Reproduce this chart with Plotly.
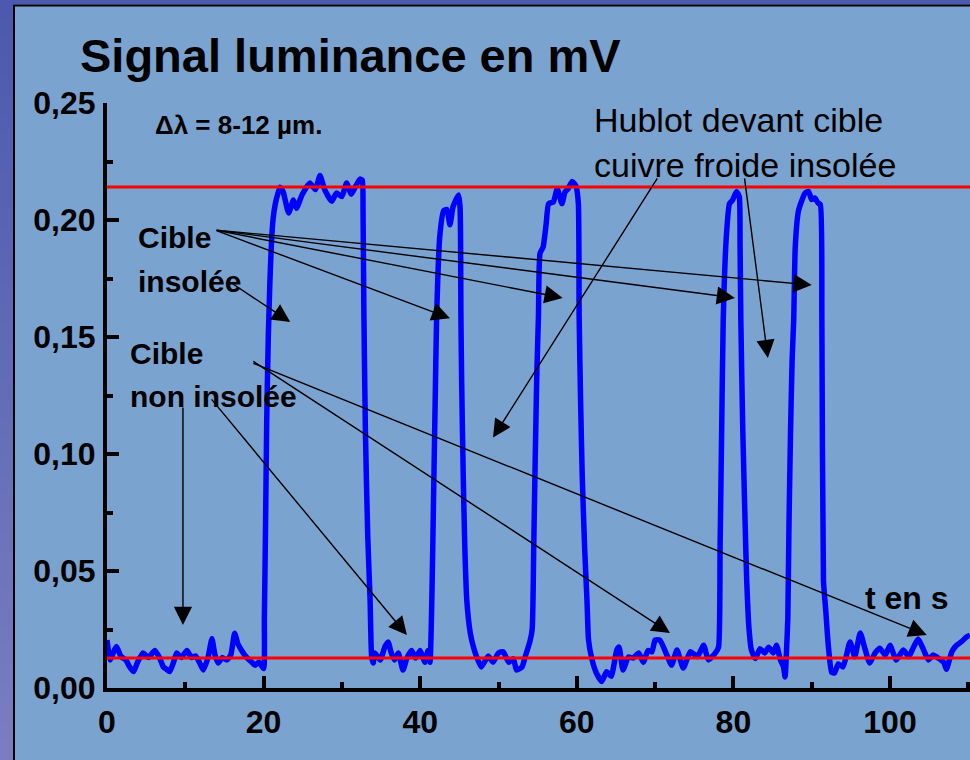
import plotly.graph_objects as go

# Luminance signal (mV) versus time (s), 8-12 µm band
t_s = [
    0.0, 0.4, 0.8, 1.2, 1.8, 2.4, 2.9, 3.4, 3.9, 4.6, 5.3, 6.1, 6.7, 7.2, 7.6, 8.0, 8.5, 8.9, 9.5,
    10.2, 10.8, 11.3, 11.8, 12.3, 12.9, 13.4, 13.8, 14.2, 14.7, 15.3, 15.8, 16.3, 16.7, 17.2, 17.6,
    18.0, 18.5, 18.9, 19.4, 20.0,
    20.1, 20.25, 20.4, 20.6, 20.8, 21.0, 21.2, 21.5, 21.8, 22.1, 22.5, 23.2, 23.8, 24.2, 24.9, 25.9,
    26.6, 27.2, 27.8, 28.7, 29.3, 30.0, 30.6, 31.2, 31.7, 32.3, 32.6, 32.7, 32.8, 33.0, 33.3, 33.6,
    33.8, 34.0,
    34.2, 34.9, 35.5, 35.9, 36.3, 36.7, 37.2, 37.8, 38.3, 38.9, 39.4, 40.0, 40.6, 41.0, 41.25,
    41.5, 41.7, 41.9, 42.1, 42.5, 43.0, 43.4, 43.8, 44.2, 44.9, 45.1, 45.2, 45.3, 45.5, 45.7,
    45.95, 46.4, 46.8, 47.2, 47.8,
    48.7, 49.3, 50.0, 50.6, 51.3, 51.9, 52.3, 53.0, 53.4, 54.0,
    54.3, 54.5, 54.7, 54.9, 55.1, 55.3, 55.7, 56.1, 56.4, 57.0, 57.5, 58.1, 58.5, 58.9, 59.4,
    59.9, 60.2, 60.3, 60.5, 60.7, 61.0, 61.3, 61.5, 61.9,
    62.5, 63.2, 63.8, 64.4, 65.1, 65.4, 65.9, 66.6, 67.2, 67.9, 68.5, 69.1, 69.6, 70.0, 70.6,
    71.5, 72.1, 72.8, 73.6, 74.5, 75.4, 76.2, 76.8, 77.7, 78.1,
    78.3, 78.5, 78.7, 79.1, 79.5, 79.9, 80.4, 80.75, 80.85, 80.95, 81.2, 81.5, 81.7, 82.0, 82.3,
    82.8, 83.4, 84.0, 84.5, 85.1, 85.5, 86.0, 86.4, 86.6, 86.8,
    86.95, 87.1, 87.3, 87.5, 87.7, 87.9, 88.3, 88.7, 89.15, 89.6, 90.0, 90.4, 90.8, 91.1, 91.3,
    91.5, 91.8, 92.1, 92.55, 92.9,
    93.4, 94.0, 94.9, 95.5, 96.2, 96.8, 97.4, 98.1, 98.7, 99.4, 100.0, 100.8, 101.7, 102.4, 103.0,
    103.6, 104.3, 104.9, 105.5, 106.2, 106.9, 107.2, 107.9, 108.5, 109.1, 109.8, 110.2,
]
signal_mv = [
    0.0205, 0.012, 0.015, 0.0177, 0.0134, 0.012, 0.009, 0.007, 0.011, 0.015, 0.013, 0.016, 0.013,
    0.009, 0.008, 0.007, 0.011, 0.015, 0.013, 0.016, 0.013, 0.0137, 0.011, 0.0077, 0.013, 0.021,
    0.014, 0.0107, 0.013, 0.012, 0.014, 0.0234, 0.019, 0.016, 0.014, 0.0125, 0.011, 0.0097, 0.011,
    0.0083,
    0.03, 0.07, 0.1145, 0.15, 0.173, 0.19, 0.200, 0.207, 0.211, 0.214, 0.212, 0.203, 0.2085, 0.205,
    0.2107, 0.2158, 0.213, 0.219, 0.213, 0.208, 0.2115, 0.210, 0.2158, 0.211, 0.214, 0.2175, 0.217,
    0.204, 0.163, 0.11, 0.065, 0.0376, 0.0134, 0.0107,
    0.015, 0.012, 0.0177, 0.0197, 0.015, 0.012, 0.015, 0.0077, 0.0128, 0.016, 0.0128, 0.016, 0.011,
    0.016, 0.011,
    0.04, 0.08, 0.12, 0.1587, 0.193, 0.204, 0.2045, 0.198, 0.2057, 0.2107, 0.205, 0.1587, 0.13,
    0.09, 0.06, 0.0376, 0.0234, 0.0175, 0.0134, 0.009,
    0.0137, 0.011, 0.015, 0.0155, 0.011, 0.0125, 0.0077, 0.009, 0.0133, 0.0197,
    0.025, 0.06, 0.10, 0.135, 0.1587, 0.1857, 0.1885, 0.1987, 0.207, 0.2077, 0.2134, 0.207, 0.212,
    0.2134, 0.2165, 0.2145, 0.207, 0.1587, 0.12, 0.09, 0.06, 0.0376, 0.0205, 0.0128,
    0.0064, 0.0028, 0.007, 0.005, 0.0162, 0.0175, 0.0077, 0.0133, 0.0128, 0.015, 0.011, 0.016,
    0.0155, 0.0205, 0.0205,
    0.0141, 0.0098, 0.0162, 0.0085, 0.0155, 0.0134, 0.0183, 0.012, 0.015, 0.0174,
    0.06, 0.11, 0.157, 0.193, 0.207, 0.2085, 0.2122, 0.210, 0.19, 0.157, 0.11, 0.07, 0.046, 0.025,
    0.0162,
    0.0126, 0.0168, 0.015, 0.0174, 0.015, 0.0183, 0.012, 0.009, 0.0047, 0.017,
    0.03, 0.07, 0.11, 0.14, 0.157, 0.1885, 0.2037, 0.208, 0.2115, 0.2122, 0.2087, 0.2094, 0.2073,
    0.2066, 0.157,
    0.046, 0.0329, 0.019, 0.0067, 0.0064,
    0.0103, 0.009, 0.0197, 0.0134, 0.0235, 0.0168, 0.0107, 0.015, 0.017, 0.0141, 0.0183, 0.012,
    0.0162, 0.0134, 0.0174,
    0.0209, 0.0162, 0.012, 0.0141, 0.0127, 0.0107, 0.008, 0.0155, 0.0183, 0.0197, 0.0219, 0.0226,
]

# Reference levels: heated target plateau and unheated baseline
level_high = 0.2141
level_low = 0.0128

x_ticks = [0, 20, 40, 60, 80, 100]
y_ticks = [0.00, 0.05, 0.10, 0.15, 0.20, 0.25]

W, H = 970, 760
ML, MR, MT, MB = 107, 0, 103, 72
PW, PH = W - ML - MR, H - MT - MB

PANEL = "#7BA3D0"
FONT = "Liberation Sans, Arial, sans-serif"


def px_x(p):
    return (p - ML) / PW


def px_y(p):
    return (H - MB - p) / PH


fig = go.Figure()
fig.add_trace(go.Scatter(
    x=t_s, y=signal_mv, mode="lines",
    line=dict(color="#0000FF", width=5.5, shape="spline", smoothing=0.5),
    hoverinfo="skip", showlegend=False,
))

shapes = []
# slide frame: darker strips on the left and top with black rules
n_band = 40
c_top = (76, 89, 174)
c_bot = (122, 126, 192)
for i in range(n_band):
    f = i / (n_band - 1)
    col = tuple(round(c_top[k] + (c_bot[k] - c_top[k]) * f) for k in range(3))
    y0 = H * i / n_band
    y1 = H * (i + 1) / n_band + 1
    shapes.append(dict(type="rect", xref="paper", yref="paper",
                       x0=px_x(0), x1=px_x(13), y0=px_y(y1), y1=px_y(y0),
                       fillcolor="rgb(%d,%d,%d)" % col, line=dict(width=0), layer="below"))
shapes.append(dict(type="rect", xref="paper", yref="paper", x0=px_x(13), x1=px_x(W + 1),
                   y0=px_y(4.5), y1=px_y(-1), fillcolor="#4B59AF", line=dict(width=0), layer="below"))
shapes.append(dict(type="line", xref="paper", yref="paper", x0=px_x(14), x1=px_x(14),
                   y0=px_y(H + 1), y1=px_y(5), line=dict(color="black", width=2), layer="below"))
shapes.append(dict(type="line", xref="paper", yref="paper", x0=px_x(13), x1=px_x(W + 1),
                   y0=px_y(5.5), y1=px_y(5.5), line=dict(color="black", width=2), layer="below"))
# reference levels
for lv in (level_high, level_low):
    shapes.append(dict(type="line", xref="paper", yref="y", x0=0, x1=1, y0=lv, y1=lv,
                       line=dict(color="#FF0000", width=3), layer="above"))

annotations = []


def label(text, xp, yp, size, bold=True, anchor="left"):
    annotations.append(dict(
        text=text, xref="paper", yref="paper", x=px_x(xp), y=px_y(yp),
        xanchor=anchor, yanchor="middle", showarrow=False,
        font=dict(family=FONT, size=size, color="black", weight="bold" if bold else "normal"),
    ))


label("Signal luminance en mV", 78, 55, 47)
label("Δλ = 8-12 µm.", 153, 125, 26)
label("Hublot devant cible", 592, 120, 34, bold=False)
label("cuivre froide insolée", 592, 165, 34, bold=False)
label("Cible", 136, 238, 30)
label("insolée", 136, 281, 30)
label("Cible", 128, 353, 30)
label("non insolée", 128, 396, 30)
label("t en s", 863, 598, 32)


def arrow(t0, v0, t1, v1):
    annotations.append(dict(
        x=t1, y=v1, ax=t0, ay=v0, xref="x", yref="y", axref="x", ayref="y",
        text="", showarrow=True, arrowhead=2, arrowsize=2.6, arrowwidth=1.4,
        arrowcolor="black", standoff=0, startstandoff=0,
    ))


# "Cible insolée" pointers to each plateau
arrow(13.8, 0.1957, 43.8, 0.158)
arrow(13.8, 0.1957, 58.2, 0.1667)
arrow(13.8, 0.1957, 80.2, 0.1667)
arrow(13.8, 0.1957, 90.0, 0.1722)
arrow(15.7, 0.1735, 23.4, 0.1564)
# "Cible non insolée" pointers to the baseline
arrow(18.5, 0.1400, 71.9, 0.0235)
arrow(18.5, 0.1390, 104.7, 0.0226)
arrow(13.2, 0.1240, 38.3, 0.0226)
arrow(9.7, 0.1205, 9.7, 0.0269)
# window in front of cold copper target
arrow(70.4, 0.2184, 49.3, 0.1070)
arrow(81.4, 0.2184, 84.4, 0.1410)

axis_common = dict(
    showgrid=False, zeroline=False, showline=True, linecolor="black", linewidth=4,
    ticks="inside", tickcolor="black", tickwidth=4, ticklen=12,
    tickfont=dict(family=FONT, size=32, color="black", weight="bold"),
    mirror=False,
)

fig.update_layout(
    width=W, height=H,
    margin=dict(l=ML, r=MR, t=MT, b=MB, pad=0),
    paper_bgcolor=PANEL, plot_bgcolor=PANEL,
    separators=", ",
    xaxis=dict(range=[0, (W - ML) / 7.83], tickvals=x_ticks, ticklabelstandoff=3,
               minor=dict(dtick=10, ticks="inside", ticklen=6, tickwidth=4, tickcolor="black"),
               **axis_common),
    yaxis=dict(range=[0, 0.25], tickvals=y_ticks, tickformat=".2f", ticklabelstandoff=1,
               minor=dict(dtick=0.025, ticks="inside", ticklen=6, tickwidth=4, tickcolor="black"),
               **axis_common),
    shapes=shapes,
    annotations=annotations,
    showlegend=False,
)

fig.write_html("out.html")
